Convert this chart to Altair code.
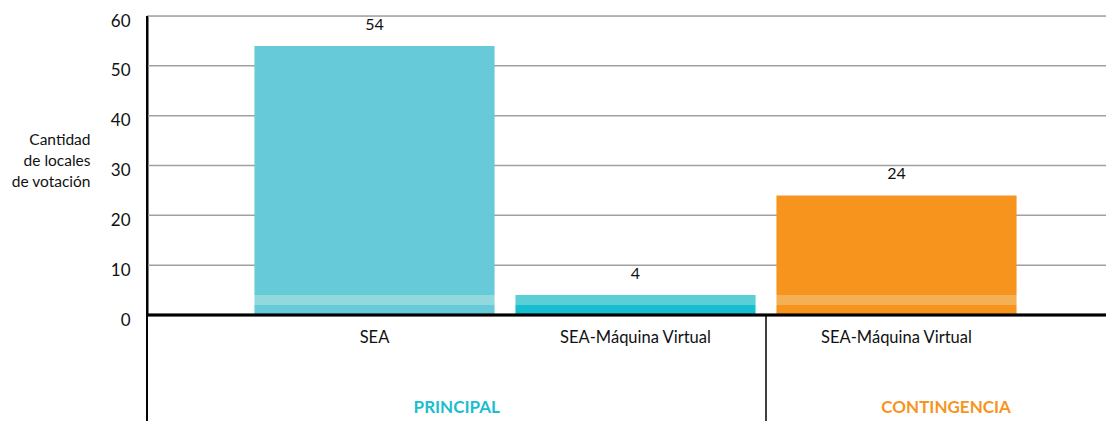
import altair as alt
import pandas as pd

# ---- data -------------------------------------------------------------
grupos = ["PRINCIPAL", "PRINCIPAL", "CONTINGENCIA"]
categorias = ["SEA", "SEA-Máquina Virtual", "SEA-Máquina Virtual"]
totales = [54, 4, 24]
seg_base = [2, 2, 2]
seg_franja = [2, 2, 2]
seg_resto = [50, 0, 20]

grupo_nombres = ["PRINCIPAL", "CONTINGENCIA"]
grupo_colores = ["#1BBDD0", "#F7941E"]

y_ticks = [0, 10, 20, 30, 40, 50, 60]

color_keys = ["SEA-a", "SEA-b", "MVP-a", "MVP-b", "MVC-a", "MVC-b"]
color_vals = ["#66CAD8", "#92D9DE", "#19BDD0", "#5BCFD6", "#F7941E", "#F5B056"]
bar_codes = ["SEA", "MVP", "MVC"]

FONT = "Lato"
W, H = 959, 299

keys = [f"{g}|{c}" for g, c in zip(grupos, categorias)]

rows = []
for k, code, b, f, r in zip(keys, bar_codes, seg_base, seg_franja, seg_resto):
    y0 = 0
    for val, suf in [(b, "a"), (f, "b"), (r, "a")]:
        rows.append({"key": k, "y0": y0, "y1": y0 + val, "col": f"{code}-{suf}"})
        y0 += val
seg_df = pd.DataFrame(rows)
tot_df = pd.DataFrame({"key": keys, "total": totales})
grid_df = pd.DataFrame({"v": y_ticks[1:]})

grp_df = pd.DataFrame({
    "grupo": grupo_nombres,
    "anchor": [keys[0], keys[2]],
})

xscale = alt.Scale(domain=keys, range=[97, 880], paddingInner=0, paddingOuter=0)
yscale = alt.Scale(domain=[0, 60])

x_enc = alt.X(
    "key:N", scale=xscale, sort=keys, title=None,
    axis=alt.Axis(
        labelExpr="split(datum.label, '|')[1]", labelAngle=0, labelFont=FONT,
        labelFontSize=16.5, labelColor="#111", labelPadding=14, ticks=False,
        domain=False, grid=False,
    ),
)

grid = alt.Chart(grid_df).mark_rule(color="#A0A0A0", strokeWidth=1.5).encode(
    y=alt.Y("v:Q", scale=yscale), x=alt.value(0), x2=alt.value(W)
)

bars = alt.Chart(seg_df).mark_bar(width={"band": 0.92}).encode(
    x=x_enc,
    y=alt.Y(
        "y0:Q", scale=yscale,
        title=["Cantidad", "de locales", "de votación"],
        axis=alt.Axis(
            values=y_ticks, grid=False, ticks=False, domain=True, domainColor="#000",
            domainWidth=2, labelFont=FONT, labelFontSize=17, labelColor="#111",
            labelPadding=17, labelOffset=5, titleAngle=0, titleAlign="right",
            titleBaseline="top", titleX=-57, titleY=116, titleFont=FONT,
            titleFontSize=15.5, titleFontWeight="normal", titleColor="#111",
            titleLineHeight=21,
        ),
    ),
    y2="y1:Q",
    color=alt.Color("col:N", scale=alt.Scale(domain=color_keys, range=color_vals), legend=None),
)

labels = alt.Chart(tot_df).mark_text(
    baseline="bottom", dy=-13, font=FONT, fontSize=16, color="#111"
).encode(x=alt.X("key:N", scale=xscale, sort=keys), y=alt.Y("total:Q", scale=yscale), text="total:Q")

zero = alt.Chart(tot_df).mark_rule(color="#000", strokeWidth=2.7).encode(
    y=alt.datum(0, scale=yscale), x=alt.value(0), x2=alt.value(W)
)

sep_left = alt.Chart(tot_df).mark_rule(color="#000", strokeWidth=1.5).encode(
    x=alt.value(0), y=alt.value(0), y2=alt.value(410)
)
sep_mid = alt.Chart(grp_df.iloc[[1]]).mark_rule(color="#000", strokeWidth=1.5).encode(
    x=alt.X("anchor:N", scale=xscale, sort=keys, bandPosition=0),
    y=alt.value(H), y2=alt.value(410),
)

grp_p = alt.Chart(grp_df.iloc[[0]]).mark_text(
    font=FONT, fontSize=17, fontWeight="bold", baseline="middle", align="center"
).encode(
    x=alt.X("anchor:N", scale=xscale, sort=keys, bandPosition=0.815),
    y=alt.value(392), text="grupo:N",
    color=alt.Color("grupo:N", scale=alt.Scale(domain=grupo_nombres, range=grupo_colores), legend=None),
)
grp_c = alt.Chart(grp_df.iloc[[1]]).mark_text(
    font=FONT, fontSize=17, fontWeight="bold", baseline="middle", align="center"
).encode(
    x=alt.X("anchor:N", scale=xscale, sort=keys, bandPosition=0.69),
    y=alt.value(392), text="grupo:N",
    color=alt.Color("grupo:N", scale=alt.Scale(domain=grupo_nombres, range=grupo_colores), legend=None),
)

chart = alt.layer(grid, bars, zero, labels, sep_left, sep_mid, grp_p, grp_c).properties(
    width=W, height=H,
    autosize=alt.AutoSizeParams(type="none"),
    padding={"left": 139, "top": 8, "right": 0, "bottom": 106},
).resolve_scale(color="independent").configure_view(stroke=None).configure(background="white")

chart.save("out.html", embed_options={"renderer": "svg", "actions": False})
